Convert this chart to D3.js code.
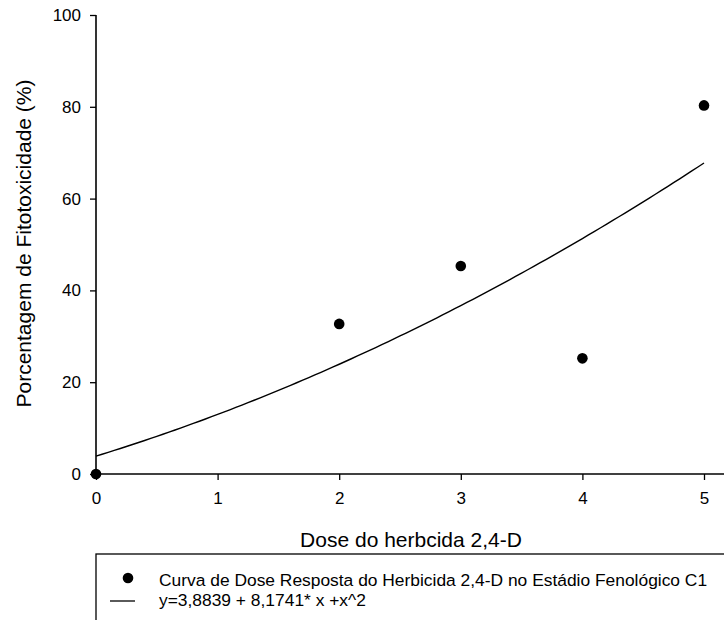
<!DOCTYPE html>
<html>
<head>
<meta charset="utf-8">
<script src="https://cdn.jsdelivr.net/npm/d3@7"></script>
<style>
  html, body { margin: 0; padding: 0; background: #fff; }
  svg { display: block; font-family: "Liberation Sans", Arial, sans-serif; }
</style>
</head>
<body>
<svg id="chart" width="724" height="620"></svg>
<script>
// Observed phytotoxicity (%) per dose of 2,4-D
const doses = [0, 2, 3, 4, 5];
const toxicity = [0, 32.7, 45.3, 25.2, 80.3];

// Quadratic fit y = a + b*x + c*x^2
const fitCoef = [3.8839, 8.1741, 0.92];
const fitRange = [0, 5];

const xTicks = [0, 1, 2, 3, 4, 5];
const yTicks = [0, 20, 40, 60, 80, 100];

const xTitle = "Dose do herbcida 2,4-D";
const yTitle = "Porcentagem de Fitotoxicidade (%)";
const legendLabels = [
  "Curva de Dose Resposta do Herbicida 2,4-D no Estádio Fenológico C1",
  "y=3,8839 + 8,1741* x +x^2"
];

const svg = d3.select("#chart");
const plotL = 96, plotR = 704, plotT = 15, plotB = 474;

const x = d3.scaleLinear().domain([0, 5]).range([plotL, plotR]);
const y = d3.scaleLinear().domain([0, 100]).range([plotB, plotT]);

// Axes
const xAxis = svg.append("g")
  .attr("transform", `translate(0,${plotB})`)
  .call(d3.axisBottom(x).tickValues(xTicks).tickFormat(d3.format("d"))
    .tickSize(6).tickPadding(12));
xAxis.select(".domain").remove();
xAxis.append("line")
  .attr("x1", plotL).attr("x2", 730).attr("y1", 0).attr("y2", 0)
  .attr("stroke", "#000").attr("stroke-width", 1.6);

const yAxis = svg.append("g")
  .attr("transform", `translate(${plotL},0)`)
  .call(d3.axisLeft(y).tickValues(yTicks).tickFormat(d3.format("d"))
    .tickSize(6).tickPadding(9));
yAxis.select(".domain").attr("d", `M0,${plotT}V${plotB}`)
  .attr("stroke-width", 1.6);

svg.selectAll(".tick line").attr("stroke", "#000").attr("stroke-width", 1.3);
svg.selectAll(".tick text")
  .attr("font-family", "Liberation Sans, Arial, sans-serif")
  .attr("font-size", 17).attr("fill", "#000");

// Axis titles
svg.append("text")
  .attr("x", 411).attr("y", 547)
  .attr("text-anchor", "middle").attr("font-size", 21)
  .text(xTitle);

svg.append("text")
  .attr("transform", `translate(31,${(plotT + plotB) / 2 - 1}) rotate(-90)`)
  .attr("text-anchor", "middle").attr("font-size", 21)
  .text(yTitle);

// Fitted curve
const fit = v => fitCoef[0] + fitCoef[1] * v + fitCoef[2] * v * v;
const curveXs = d3.range(0, 101).map(i => fitRange[0] + (fitRange[1] - fitRange[0]) * i / 100);
svg.append("path")
  .datum(curveXs)
  .attr("fill", "none").attr("stroke", "#000").attr("stroke-width", 1.4)
  .attr("d", d3.line().x(d => x(d)).y(d => y(fit(d))));

// Observed points
svg.selectAll("circle.obs")
  .data(doses.map((d, i) => ({ d, v: toxicity[i] })))
  .join("circle")
  .attr("class", "obs")
  .attr("cx", d => x(d.d)).attr("cy", d => y(d.v))
  .attr("r", 5.3).attr("fill", "#000");

// Legend
const lg = svg.append("g");
lg.append("rect")
  .attr("x", 96).attr("y", 554).attr("width", 700).attr("height", 100)
  .attr("fill", "none").attr("stroke", "#000").attr("stroke-width", 1.3);
lg.append("circle").attr("cx", 128).attr("cy", 578).attr("r", 5.3).attr("fill", "#000");
lg.append("line").attr("x1", 110).attr("x2", 135).attr("y1", 601).attr("y2", 601)
  .attr("stroke", "#000").attr("stroke-width", 1.3);
lg.selectAll("text.lbl")
  .data(legendLabels)
  .join("text")
  .attr("class", "lbl")
  .attr("x", 159).attr("y", (d, i) => 586 + i * 20)
  .attr("font-size", 17.4)
  .text(d => d);
</script>
</body>
</html>
